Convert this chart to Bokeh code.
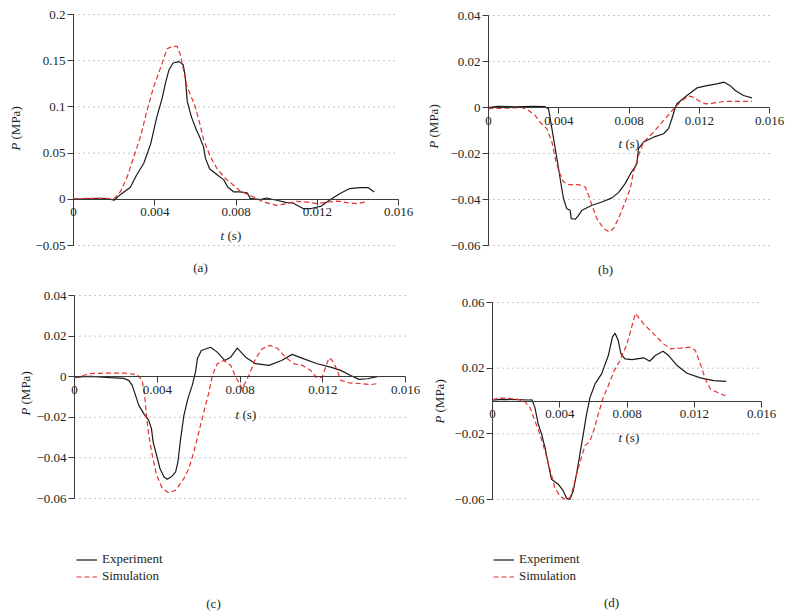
from math import pi
from bokeh.plotting import figure
from bokeh.models import FixedTicker, Label, Legend, LegendItem, Range1d
from bokeh.layouts import column, row
from bokeh.embed import file_html
from bokeh.resources import INLINE

FONT = "Liberation Serif"
TXT = "#231f20"
RED = "#e2312f"
BLK = "#1a1a1a"
AXC = "#3a3a3a"

# ---------------- data ----------------
x_ticks = [0, 0.004, 0.008, 0.012, 0.016]
x_tick_labels = ["0", "0.004", "0.008", "0.012", "0.016"]

a_y_ticks = [-0.05, 0, 0.05, 0.1, 0.15, 0.2]
a_y_tick_labels = ["\u22120.05", "0", "0.05", "0.1", "0.15", "0.2"]
bc_y_ticks = [-0.06, -0.04, -0.02, 0, 0.02, 0.04]
bc_y_tick_labels = ["\u22120.06", "\u22120.04", "\u22120.02", "0", "0.02", "0.04"]
d_y_ticks = [-0.06, -0.02, 0.02, 0.06]
d_y_tick_labels = ["\u22120.06", "\u22120.02", "0.02", "0.06"]

series_names = ["Experiment", "Simulation"]
panel_names = ["(a)", "(b)", "(c)", "(d)"]

a_exp_t = [0, 0.0006, 0.0012, 0.0017, 0.0020, 0.0023, 0.0028, 0.0031, 0.00346, 0.0038, 0.0041, 0.00436,
           0.00453, 0.0047, 0.0049, 0.0052, 0.0054, 0.0055, 0.0056, 0.0058, 0.00605, 0.0062, 0.0064, 0.0065,
           0.0067, 0.0071, 0.0074, 0.0076, 0.0079, 0.0082, 0.00855, 0.0087, 0.0092, 0.0095, 0.0100, 0.0105,
           0.0108, 0.0113, 0.0117, 0.0122, 0.0126, 0.0131, 0.0136, 0.0141, 0.0145, 0.0148]
a_exp_p = [0, 0.0005, 0.001, 0.0008, -0.001, 0.005, 0.013, 0.026, 0.039, 0.060, 0.089, 0.109,
           0.126, 0.140, 0.1475, 0.149, 0.1457, 0.133, 0.106, 0.0895, 0.075, 0.068, 0.057, 0.044,
           0.033, 0.026, 0.021, 0.013, 0.008, 0.008, 0.007, 0.001, -0.0003, 0.0014, -0.001, -0.0036,
           -0.004, -0.010, -0.010, -0.0073, -0.001, 0.006, 0.0116, 0.0127, 0.0127, 0.008]
a_sim_t = [0, 0.0008, 0.0015, 0.0020, 0.0023, 0.00264, 0.00297, 0.0033, 0.00363, 0.00395, 0.00428, 0.00461,
           0.00486, 0.0051, 0.00526, 0.00543, 0.00559, 0.00576, 0.0060, 0.00625, 0.00641, 0.00674, 0.00707,
           0.00748, 0.00789, 0.0082, 0.00887, 0.00936, 0.0100, 0.0105, 0.0110, 0.0115, 0.0120, 0.0125,
           0.0130, 0.01346, 0.01395, 0.01437]
a_sim_p = [0.0005, 0.001, 0.001, 0.0008, 0.008, 0.024, 0.046, 0.068, 0.097, 0.122, 0.142, 0.163,
           0.1655, 0.1655, 0.1565, 0.138, 0.122, 0.113, 0.100, 0.079, 0.064, 0.046, 0.033,
           0.0225, 0.015, 0.009, 0.0025, -0.003, -0.0065, -0.0047, -0.0022, -0.003, -0.0047, -0.003,
           -0.002, -0.0036, -0.0047, -0.003]

b_exp_t = [0, 0.0005, 0.0015, 0.0025, 0.0032, 0.00342, 0.00361, 0.0038, 0.00399, 0.00414, 0.00427, 0.00446,
           0.00465, 0.00471, 0.00494, 0.00509, 0.00532, 0.00589, 0.00646, 0.00703, 0.0074, 0.00778, 0.00807,
           0.00826, 0.00845, 0.00854, 0.00883, 0.0094, 0.00997, 0.01025, 0.01044, 0.01063, 0.01073, 0.0113,
           0.01187, 0.01244, 0.013, 0.01342, 0.01376, 0.01405, 0.01452, 0.0150]
b_exp_p = [0, 0.0005, 0.0003, 0.0005, 0.0004, -0.0006, -0.0092, -0.0179, -0.0266, -0.0338, -0.0396, -0.044,
           -0.0447, -0.0483, -0.0486, -0.0472, -0.0447, -0.0425, -0.0411, -0.0393, -0.037, -0.0331, -0.029,
           -0.0268, -0.0244, -0.0179, -0.015, -0.0129, -0.0114, -0.0092, -0.0049, -0.0001, 0.0016, 0.0052,
           0.0085, 0.0095, 0.0103, 0.011, 0.0095, 0.0074, 0.0052, 0.0042]
b_sim_t = [0, 0.001, 0.0019, 0.00228, 0.00266, 0.00294, 0.00332, 0.00361, 0.00385, 0.00403, 0.00427, 0.00456,
           0.00513, 0.00551, 0.0057, 0.00589, 0.00617, 0.00655, 0.00687, 0.00712, 0.0074, 0.00778, 0.00807,
           0.00826, 0.00855, 0.00883, 0.0094, 0.00997, 0.01054, 0.01101, 0.01139, 0.01165, 0.01196, 0.01234,
           0.0127, 0.01338, 0.0141, 0.0150]
b_sim_p = [-0.0005, -0.0003, 0, -0.0013, -0.0035, -0.0064, -0.0092, -0.015, -0.0237, -0.0281, -0.0324, -0.0335,
           -0.0335, -0.0346, -0.0382, -0.0425, -0.0483, -0.0526, -0.0541, -0.0526, -0.0483, -0.0411, -0.0353,
           -0.0281, -0.0208, -0.015, -0.0107, -0.0056, -0.0006, 0.003, 0.005, 0.0045, 0.003, 0.0016,
           0.0018, 0.0026, 0.0027, 0.0027]

c_exp_t = [0, 0.0004, 0.0008, 0.00174, 0.00238, 0.00262, 0.00279, 0.00295, 0.00311, 0.00335, 0.00359, 0.00372,
           0.0038, 0.00397, 0.00413, 0.00432, 0.00448, 0.00468, 0.00489, 0.005, 0.00513, 0.00529, 0.00548,
           0.00569, 0.00585, 0.00594, 0.00613, 0.00658, 0.0069, 0.00726, 0.00755, 0.00787, 0.00827, 0.00875,
           0.0094, 0.01001, 0.01052, 0.01109, 0.01173, 0.01238, 0.01287, 0.01335, 0.01375, 0.01416, 0.01464]
c_exp_p = [-0.0005, 0, 0.0002, -0.0005, -0.0008, -0.0018, -0.0043, -0.0092, -0.0141, -0.0182, -0.0215, -0.0256,
           -0.0321, -0.0387, -0.0452, -0.0493, -0.0505, -0.0493, -0.0469, -0.042, -0.0305, -0.019, -0.0108,
           -0.0043, 0.0023, 0.0088, 0.0129, 0.0145, 0.0121, 0.008, 0.0096, 0.0141, 0.0096, 0.0064,
           0.0056, 0.008, 0.011, 0.0088, 0.0064, 0.0047, 0.0031, 0.0006, -0.0013, -0.001, 0]
c_sim_t = [0, 0.00077, 0.00142, 0.0024, 0.00303, 0.00327, 0.00339, 0.00348, 0.00359, 0.00376, 0.00397, 0.00424,
           0.00456, 0.00489, 0.00529, 0.00553, 0.00577, 0.00601, 0.00625, 0.0065, 0.00666, 0.0069, 0.00722,
           0.00755, 0.00779, 0.0081, 0.00843, 0.00875, 0.00907, 0.00944, 0.0098, 0.0102, 0.0106, 0.01101,
           0.01142, 0.01173, 0.01198, 0.01214, 0.0123, 0.01246, 0.01267, 0.01287, 0.01327, 0.01383, 0.01432,
           0.01464]
c_sim_p = [-0.0005, 0.0015, 0.0018, 0.0018, 0.001, -0.0018, -0.0092, -0.019, -0.0288, -0.0387, -0.0485, -0.055,
           -0.0572, -0.0559, -0.0501, -0.0452, -0.037, -0.0272, -0.0174, -0.0076, 0.0006, 0.0064, 0.008,
           0.0056, 0, -0.006, 0.0006, 0.0088, 0.0138, 0.0154, 0.0141, 0.0096, 0.0064, 0.0056,
           0.0031, -0.0007, -0.0002, 0.0047, 0.0093, 0.008, 0.0039, -0.0018, -0.003, -0.0034, -0.0039,
           -0.0034]

d_exp_t = [0, 0.00054, 0.0015, 0.00213, 0.00235, 0.00252, 0.00272, 0.00292, 0.00312, 0.00332, 0.00351, 0.00391,
           0.00421, 0.00441, 0.00461, 0.0048, 0.005, 0.0052, 0.0054, 0.0056, 0.0058, 0.0061, 0.00649, 0.00689,
           0.00713, 0.00729, 0.00748, 0.00764, 0.00788, 0.0083, 0.00899, 0.00935, 0.00968, 0.01014, 0.01048,
           0.01098, 0.01157, 0.01236, 0.01316, 0.0139]
d_exp_p = [0.0005, 0.001, 0.0008, 0.0006, 0.0007, -0.0039, -0.014, -0.0202, -0.0283, -0.0385, -0.0477, -0.0507,
           -0.0548, -0.0593, -0.0599, -0.0548, -0.0446, -0.0324, -0.0202, -0.0079, 0.0022, 0.0104, 0.0165, 0.0277,
           0.0389, 0.0413, 0.0368, 0.0287, 0.0257, 0.0252, 0.0263, 0.0242, 0.0277, 0.0303, 0.0277,
           0.0216, 0.0169, 0.0141, 0.0124, 0.012]
d_sim_t = [0, 0.00034, 0.0007, 0.00153, 0.00193, 0.00223, 0.00252, 0.00282, 0.00312, 0.00342, 0.00371, 0.00401,
           0.00435, 0.00461, 0.0048, 0.005, 0.00526, 0.0055, 0.0058, 0.00605, 0.00629, 0.00659, 0.00689, 0.00724,
           0.00758, 0.0080, 0.0085, 0.00899, 0.00958, 0.01018, 0.01058, 0.01117, 0.01177, 0.01207, 0.01236,
           0.01266, 0.01296, 0.01336, 0.01385]
d_sim_p = [0.0007, 0.0018, 0.0018, 0.001, -0.0004, -0.0039, -0.012, -0.0202, -0.0304, -0.0416, -0.0528, -0.0579,
           -0.0600, -0.0589, -0.0528, -0.0446, -0.0354, -0.0273, -0.0243, -0.0171, -0.0079, 0.0022, 0.0094, 0.0185,
           0.0246, 0.0348, 0.0533, 0.047, 0.0409, 0.0348, 0.0318, 0.0322, 0.0328, 0.0307, 0.0226,
           0.0134, 0.0073, 0.0053, 0.0032]


# ---------------- helpers ----------------
def make_panel(w, h, box, yr, yt, yl, exp_t, exp_p, sim_t, sim_p,
               name, name_pos, ylab_pos, tlab_pos, legend_loc=None):
    """box = (left, top, width, height) of the axes area, in px inside the figure."""
    L, T, W, H = box
    x0, x1 = x_ticks[0], x_ticks[-1]
    y0, y1 = yr
    sx = (x1 - x0) / W
    sy = (y1 - y0) / H
    xs, xe = x0 - L * sx, x1 + (w - L - W) * sx
    ys, ye = y0 - (h - T - H) * sy, y1 + T * sy

    def X(px):
        return xs + px * sx

    def Y(py):
        return ye - py * sy

    p = figure(width=w, height=h, x_range=Range1d(xs, xe), y_range=Range1d(ys, ye),
               output_backend="svg", toolbar_location=None,
               min_border_left=0, min_border_right=0, min_border_top=0, min_border_bottom=0)
    p.min_border = 0
    p.title.visible = False
    p.outline_line_color = None
    p.border_fill_color = "white"
    p.background_fill_color = "white"
    p.xgrid.visible = False
    p.ygrid.visible = False

    # dotted horizontal guide lines at the y ticks, spanning the time axis
    p.segment(x0=[x0] * len(yt), x1=[x1] * len(yt), y0=yt, y1=yt,
              line_color="#8c8c8c", line_dash="1 4", line_width=1)

    xa = p.xaxis[0]
    ya = p.yaxis[0]
    xa.fixed_location = 0
    ya.fixed_location = 0
    xa.bounds = (x0, x1)
    ya.bounds = (y0, y1)
    xa.ticker = FixedTicker(ticks=x_ticks)
    xa.major_label_overrides = dict(zip(x_ticks, x_tick_labels))
    ya.ticker = FixedTicker(ticks=yt)
    ya.major_label_overrides = dict(zip(yt, yl))
    for ax in (xa, ya):
        ax.axis_line_color = AXC
        ax.axis_line_width = 1
        ax.major_tick_line_color = AXC
        ax.major_tick_in = 0
        ax.major_tick_out = 6
        ax.minor_tick_line_color = None
        ax.major_label_text_font = FONT
        ax.major_label_text_font_size = "13px"
        ax.major_label_text_color = TXT
    xa.major_label_standoff = 3
    ya.major_label_standoff = 2

    r_exp = p.line(exp_t, exp_p, line_color=BLK, line_width=1.2)
    r_sim = p.line(sim_t, sim_p, line_color=RED, line_width=1.2, line_dash="5 3")

    def txt(px, py, s, italic=False, angle=0.0, align="left"):
        p.add_layout(Label(x=X(px), y=Y(py), text=s, text_font=FONT, text_font_size="13px",
                           text_font_style="italic" if italic else "normal",
                           text_align=align, text_baseline="middle", angle=angle,
                           text_color=TXT))

    # y-axis label: italic P + (MPa), rotated, centred at ylab_pos
    cx, cy = ylab_pos
    txt(cx, cy + 22, "P", italic=True, angle=pi / 2)
    txt(cx, cy + 11, "(MPa)", angle=pi / 2)
    # x-axis label: italic t + (s), centred at tlab_pos
    tx, ty = tlab_pos
    txt(tx - 10, ty, "t", italic=True)
    txt(tx - 3, ty, "(s)")
    # panel letter
    txt(name_pos[0], name_pos[1], name, align="center")

    if legend_loc is not None:
        leg = Legend(items=[LegendItem(label=series_names[0], renderers=[r_exp]),
                            LegendItem(label=series_names[1], renderers=[r_sim])],
                     location=legend_loc, orientation="vertical", padding=0, margin=0, spacing=0,
                     glyph_width=21, glyph_height=17, label_height=17, label_standoff=5,
                     label_text_font=FONT, label_text_font_size="13px", label_text_color=TXT,
                     border_line_color=None, background_fill_alpha=0)
        p.add_layout(leg, "center")
    return p


pa = make_panel(420, 286, (73, 14, 325, 231), (-0.05, 0.2), a_y_ticks, a_y_tick_labels,
                a_exp_t, a_exp_p, a_sim_t, a_sim_p, panel_names[0], (200, 267),
                (15, 128), (230, 235))
pb = make_panel(366, 286, (68, 15, 281, 230), (-0.06, 0.04), bc_y_ticks, bc_y_tick_labels,
                b_exp_t, b_exp_p, b_sim_t, b_sim_p, panel_names[1], (185, 269),
                (13, 126), (208, 143))
pc = make_panel(420, 328, (74, 9, 331, 203), (-0.06, 0.04), bc_y_ticks, bc_y_tick_labels,
                c_exp_t, c_exp_p, c_sim_t, c_sim_p, panel_names[2], (213, 317),
                (25, 107), (245, 128), legend_loc=(76, 29.5))
pd_ = make_panel(366, 328, (72, 16, 269, 197), (-0.06, 0.06), d_y_ticks, d_y_tick_labels,
                 d_exp_t, d_exp_p, d_sim_t, d_sim_p, panel_names[3], (191, 316),
                 (19, 115), (208, 151), legend_loc=(73, 29.5))

layout = column(row(pa, pb), row(pc, pd_))
open("out.html", "w").write(file_html(layout, INLINE))
